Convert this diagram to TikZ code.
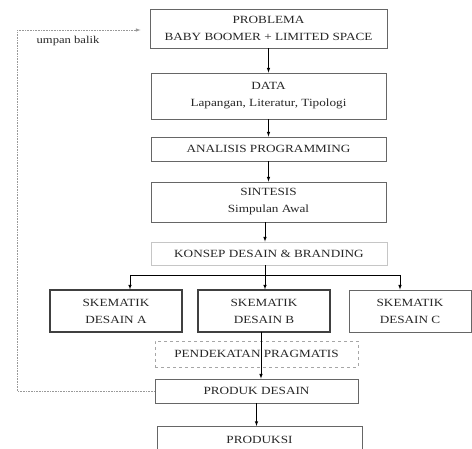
\documentclass[tikz,border=0pt]{standalone}
\usepackage{fontspec}
\setmainfont{Liberation Serif}[FakeStretch=1.2]
\tikzset{
  box/.style={draw=gray!80!black, line width=0.9pt, align=center, inner sep=0pt,
    font=\fontsize{11}{17}\selectfont, text=black!85},
  softbox/.style={box, draw=gray!45},
  darkbox/.style={box, draw=black!75, line width=1.1pt},
  dashbox/.style={box, draw=gray!70, dashed},
  link/.style={line width=0.6pt, -latex},
  fb/.style={gray!80, line width=0.6pt, densely dotted}
}
\begin{document}
\begin{tikzpicture}[x=1pt, y=-1pt]
  \useasboundingbox (0,0) rectangle (472,449);
  % main column
  \node[box, minimum width=237pt, minimum height=39pt] (prob) at (268.5,28.5) {PROBLEMA\\BABY BOOMER + LIMITED SPACE};
  \node[box, minimum width=235pt, minimum height=46pt] (data) at (268.5,96) {DATA\\Lapangan, Literatur, Tipologi};
  \node[box, minimum width=235pt, minimum height=24pt] (anal) at (268.5,149) {ANALISIS PROGRAMMING};
  \node[box, minimum width=235pt, minimum height=40pt] (sint) at (268.5,202) {SINTESIS\\Simpulan Awal};
  \node[softbox, minimum width=236pt, minimum height=23pt] (konsep) at (269,253.5) {KONSEP DESAIN \& BRANDING};
  % schematic designs
  \node[darkbox, minimum width=132pt, minimum height=42pt] (ska) at (116,311) {SKEMATIK\\DESAIN A};
  \node[darkbox, minimum width=132pt, minimum height=42pt] (skb) at (264,311) {SKEMATIK\\DESAIN B};
  \node[box, minimum width=122pt, minimum height=42pt] (skc) at (410,311) {SKEMATIK\\DESAIN C};
  \node[dashbox, minimum width=203pt, minimum height=26pt] (prag) at (256.5,354) {PENDEKATAN PRAGMATIS};
  \node[box, minimum width=203pt, minimum height=24pt] (produk) at (256.5,391) {PRODUK DESAIN};
  \node[box, minimum width=205pt, minimum height=30pt, anchor=north] (prodx) at (259.5,426) {\raisebox{4pt}{PRODUKSI}};
  % arrows
  \draw[link] (prob) -- (data);
  \draw[link] (data) -- (anal);
  \draw[link] (anal) -- (sint);
  \coordinate (split) at (265,275);
  \coordinate (sl) at (130,275);
  \coordinate (sr) at (400,275);
  \draw[link] (sint.south -| split) -- (konsep.north -| split);
  \draw[line width=0.6pt] (konsep.south -| split) -- (split);
  \draw[line width=0.6pt] (sl) -- (sr);
  \foreach \t/\c in {ska/sl, skb/split, skc/sr}{ \draw[link] (\c) -- (\c |- \t.north); }
  \coordinate (bdown) at (261,332);
  \draw[link] (bdown) -- (bdown |- produk.north);
  \draw[link] (produk) -- (produk |- prodx.north);
  % feedback
  \coordinate (fbtop) at (17,30);
  \draw[fb] (produk.west) -| (fbtop);
  \draw[fb, -latex, shorten >=9pt] (fbtop) -- (fbtop -| prob.west);
  \node[font=\fontsize{10.5}{12}\selectfont, text=black!85] (umpan) at (68,41) {umpan balik};
\end{tikzpicture}
\end{document}
